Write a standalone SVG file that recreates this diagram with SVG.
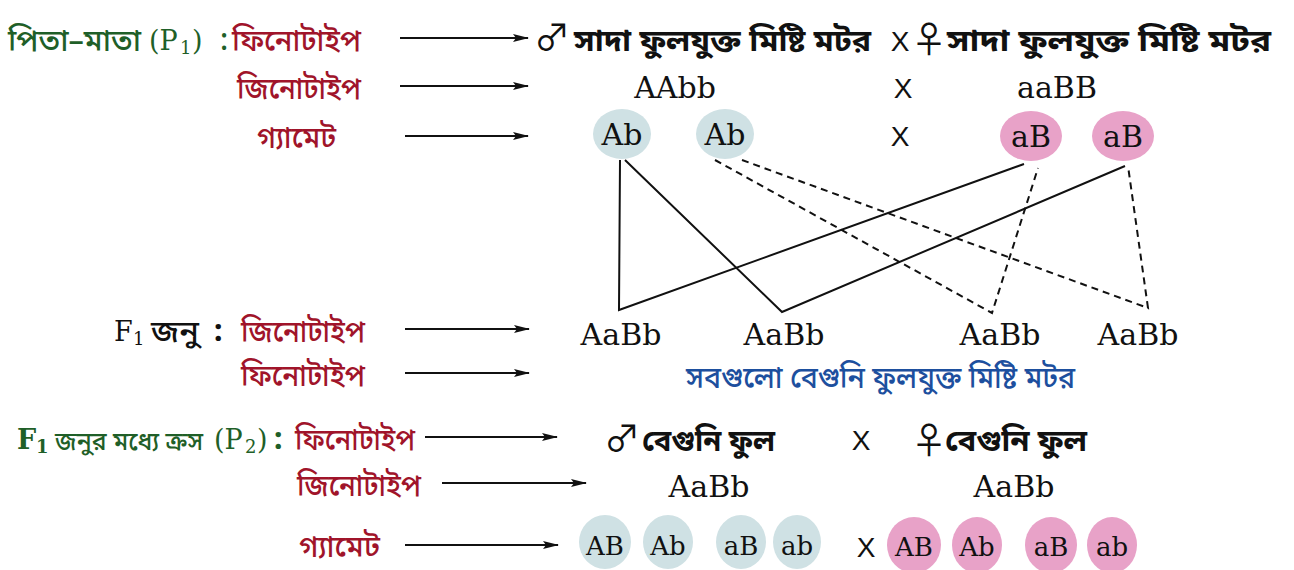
<svg xmlns="http://www.w3.org/2000/svg" width="1294" height="570" viewBox="0 0 1294 570">
<defs>
<marker id="ah" viewBox="0 0 16 8" refX="15" refY="4" markerWidth="16" markerHeight="8" markerUnits="userSpaceOnUse" orient="auto">
<path d="M0,0 L16,4 L0,8 L3,4 Z" fill="#111"/>
</marker>
<style>
.bn{font-family:"Noto Sans Bengali","Noto Serif Bengali","Lohit Bengali","Noto Sans",sans-serif;font-size:30px;font-weight:500}
.hv{font-weight:700}
.grn{fill:#1f5f28}
.red{fill:#a0142a}
.blu{fill:#1d4f9e}
.blk{fill:#111}
.lat{font-family:"DejaVu Serif","Liberation Serif",serif;font-size:30px;fill:#111}
.sm{font-family:"DejaVu Serif","Liberation Serif",serif;font-size:26px;fill:#111}
.ser{font-family:"DejaVu Serif","Liberation Serif",serif;font-size:27px}
.sub{font-family:"DejaVu Serif","Liberation Serif",serif;font-size:18px}
.x{font-family:"Liberation Sans",Arial,sans-serif;font-size:28px;fill:#111}
.sym{font-family:"Noto Sans CJK JP","DejaVu Sans",sans-serif;font-size:36px;fill:#111}
.arr{stroke:#111;stroke-width:1.8;fill:none;marker-end:url(#ah)}
.g1{fill:#cfe1e4}
.g2{fill:#e8a2c8}
.solid{stroke:#111;stroke-width:2;fill:none}
.dash{stroke:#111;stroke-width:2;fill:none;stroke-dasharray:7 5}
</style>
</defs>
<rect width="1294" height="570" fill="#fff"/>

<g id="labels">
<text x="8" y="51" class="bn grn" textLength="133" lengthAdjust="spacingAndGlyphs">পিতা–মাতা</text>
<text x="149" y="50" class="ser grn">(P</text>
<text x="180" y="54" class="sub grn">1</text>
<text x="192" y="50" class="ser grn">)</text>
<text x="220" y="50" class="bn grn">:</text>
<text x="232" y="51" class="bn red" textLength="129" lengthAdjust="spacingAndGlyphs">ফিনোটাইপ</text>
<text x="237" y="99" class="bn red" textLength="124" lengthAdjust="spacingAndGlyphs">জিনোটাইপ</text>
<text x="257" y="148" class="bn red" textLength="79" lengthAdjust="spacingAndGlyphs">গ্যামেট</text>

<text x="114" y="341" class="ser blk">F</text>
<text x="133" y="345" class="sub blk">1</text>
<text x="151" y="342" class="bn blk" textLength="48" lengthAdjust="spacingAndGlyphs">জনু</text>
<text x="214" y="341" class="bn blk hv">:</text>
<text x="241" y="342" class="bn red" textLength="124" lengthAdjust="spacingAndGlyphs">জিনোটাইপ</text>
<text x="241" y="386" class="bn red" textLength="124" lengthAdjust="spacingAndGlyphs">ফিনোটাইপ</text>

<text x="17" y="449" class="ser grn" font-weight="bold">F</text>
<text x="36" y="453" class="sub grn" font-weight="bold">1</text>
<text x="55" y="450" class="bn grn" textLength="148" lengthAdjust="spacingAndGlyphs" style="font-size:26px">জনুর মধ্যে ক্রস</text>
<text x="214" y="449" class="ser grn">(P</text>
<text x="245" y="453" class="sub grn">2</text>
<text x="257" y="449" class="ser grn">)</text>
<text x="274" y="449" class="bn grn hv">:</text>
<text x="295" y="450" class="bn red" textLength="120" lengthAdjust="spacingAndGlyphs">ফিনোটাইপ</text>
<text x="297" y="496" class="bn red" textLength="124" lengthAdjust="spacingAndGlyphs">জিনোটাইপ</text>
<text x="299" y="557" class="bn red" textLength="81" lengthAdjust="spacingAndGlyphs">গ্যামেট</text>
</g>

<g id="arrows">
<line x1="400" y1="38" x2="528" y2="38" class="arr"/>
<line x1="400" y1="86" x2="528" y2="86" class="arr"/>
<line x1="405" y1="136" x2="528" y2="136" class="arr"/>
<line x1="405" y1="329" x2="529" y2="329" class="arr"/>
<line x1="405" y1="373" x2="529" y2="373" class="arr"/>
<line x1="425" y1="437" x2="557" y2="437" class="arr"/>
<line x1="442" y1="483" x2="586" y2="483" class="arr"/>
<line x1="405" y1="545" x2="558" y2="545" class="arr"/>
</g>

<g id="p1-phenotype">
<text x="552" y="51" class="sym" text-anchor="middle">♂</text>
<text x="574" y="51" class="bn blk hv" textLength="297" lengthAdjust="spacingAndGlyphs">সাদা ফুলযুক্ত মিষ্টি মটর</text>
<text x="900" y="51" class="x" text-anchor="middle">X</text>
<text x="929" y="53" class="sym" text-anchor="middle" font-size="32">♀</text>
<text x="947" y="51" class="bn blk hv" textLength="324" lengthAdjust="spacingAndGlyphs">সাদা ফুলযুক্ত মিষ্টি মটর</text>
</g>

<g id="p1-genotype">
<text x="675" y="98" class="lat" text-anchor="middle">AAbb</text>
<text x="903" y="98" class="x" text-anchor="middle">X</text>
<text x="1057" y="98" class="lat" text-anchor="middle">aaBB</text>
</g>

<g id="p1-gametes">
<g id="g-Ab1"><ellipse cx="622" cy="134" rx="29" ry="25" class="g1"/><text x="622" y="145" class="lat" text-anchor="middle">Ab</text></g>
<g id="g-Ab2"><ellipse cx="725" cy="134" rx="29" ry="25" class="g1"/><text x="725" y="145" class="lat" text-anchor="middle">Ab</text></g>
<text x="900" y="146" class="x" text-anchor="middle">X</text>
<g id="g-aB1"><ellipse cx="1031" cy="136" rx="31" ry="25" class="g2"/><text x="1031" y="147" class="lat" text-anchor="middle">aB</text></g>
<g id="g-aB2"><ellipse cx="1123" cy="136" rx="31" ry="25" class="g2"/><text x="1123" y="147" class="lat" text-anchor="middle">aB</text></g>
</g>

<g id="connectors">
<polyline points="620,160 619,310 1024,164" class="solid"/>
<polyline points="625,160 782,312 1125,166" class="solid"/>
<polyline points="715,160 992,313 1038,168" class="dash"/>
<polyline points="742,160 1148,308 1128,166" class="dash"/>
</g>

<g id="f1-genotype">
<text x="621" y="345" class="lat" text-anchor="middle">AaBb</text>
<text x="784" y="345" class="lat" text-anchor="middle">AaBb</text>
<text x="1000" y="345" class="lat" text-anchor="middle">AaBb</text>
<text x="1138" y="345" class="lat" text-anchor="middle">AaBb</text>
</g>

<g id="f1-phenotype">
<text x="686" y="388" class="bn blu" textLength="389" lengthAdjust="spacingAndGlyphs">সবগুলো বেগুনি ফুলযুক্ত মিষ্টি মটর</text>
</g>

<g id="p2-phenotype">
<text x="622" y="452" class="sym" text-anchor="middle">♂</text>
<text x="642" y="451" class="bn blk hv" textLength="133" lengthAdjust="spacingAndGlyphs">বেগুনি ফুল</text>
<text x="861" y="450" class="x" text-anchor="middle">X</text>
<text x="929" y="454" class="sym" text-anchor="middle" font-size="32">♀</text>
<text x="945" y="451" class="bn blk hv" textLength="142" lengthAdjust="spacingAndGlyphs">বেগুনি ফুল</text>
</g>

<g id="p2-genotype">
<text x="709" y="497" class="lat" text-anchor="middle">AaBb</text>
<text x="1014" y="497" class="lat" text-anchor="middle">AaBb</text>
</g>

<g id="p2-gametes">
<g id="m-AB"><ellipse cx="605" cy="542" rx="26" ry="27" class="g1"/><text x="605" y="555" class="sm" text-anchor="middle">AB</text></g>
<g id="m-Ab"><ellipse cx="668" cy="542" rx="25" ry="27" class="g1"/><text x="668" y="555" class="sm" text-anchor="middle">Ab</text></g>
<g id="m-aB"><ellipse cx="741" cy="542" rx="25" ry="27" class="g1"/><text x="741" y="555" class="sm" text-anchor="middle">aB</text></g>
<g id="m-ab"><ellipse cx="797" cy="542" rx="24" ry="27" class="g1"/><text x="797" y="555" class="sm" text-anchor="middle">ab</text></g>
<text x="866" y="557" class="x" text-anchor="middle">X</text>
<g id="f-AB"><ellipse cx="914" cy="545" rx="27" ry="28" class="g2"/><text x="914" y="556" class="sm" text-anchor="middle">AB</text></g>
<g id="f-Ab"><ellipse cx="977" cy="545" rx="25" ry="28" class="g2"/><text x="977" y="556" class="sm" text-anchor="middle">Ab</text></g>
<g id="f-aB"><ellipse cx="1051" cy="545" rx="26" ry="28" class="g2"/><text x="1051" y="556" class="sm" text-anchor="middle">aB</text></g>
<g id="f-ab"><ellipse cx="1112" cy="545" rx="25" ry="28" class="g2"/><text x="1112" y="556" class="sm" text-anchor="middle">ab</text></g>
</g>
</svg>
